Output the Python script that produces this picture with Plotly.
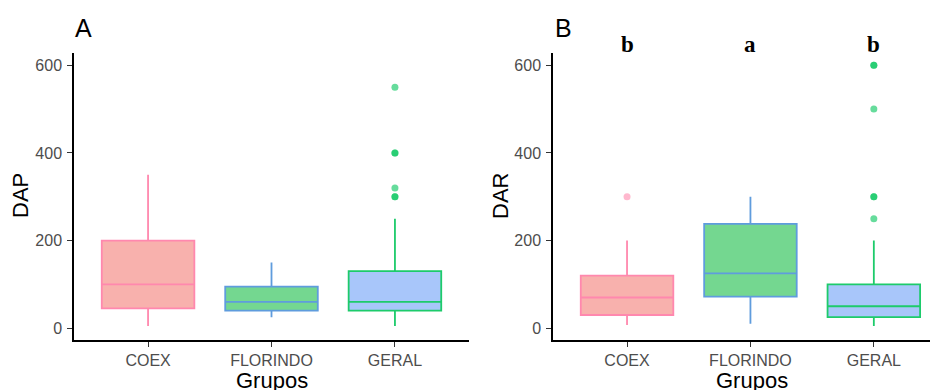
import plotly.graph_objects as go

# Page body has an 8px default margin, so figure pixel coords = screen coords - 8
OFF = 8
W, H = 938 - OFF, 390 - OFF

categories = ["COEX", "FLORINDO", "GERAL"]

# Panel A (DAP) box statistics
dap_q1 = [45, 40, 40]
dap_median = [100, 60, 60]
dap_q3 = [200, 95, 130]
dap_lower = [5, 25, 5]
dap_upper = [350, 150, 250]
dap_out_x = ["GERAL", "GERAL", "GERAL", "GERAL", "GERAL", "GERAL"]
dap_out_y = [550, 400, 400, 320, 300, 300]

# Panel B (DAR) box statistics
dar_q1 = [30, 72, 25]
dar_median = [70, 125, 50]
dar_q3 = [120, 238, 100]
dar_lower = [7, 10, 5]
dar_upper = [200, 300, 200]
dar_out_x = ["COEX", "GERAL", "GERAL", "GERAL", "GERAL", "GERAL", "GERAL"]
dar_out_y = [300, 600, 600, 500, 300, 300, 250]

letters = ["b", "a", "b"]

fill_colors = {"COEX": "#F8B1AD", "FLORINDO": "#74D790", "GERAL": "#A8C6FA"}
line_colors = {"COEX": "#FF88AE", "FLORINDO": "#5F9CDD", "GERAL": "#1DCB6B"}
point_colors = {"COEX": "rgba(255,136,174,0.6)", "GERAL": "rgba(0,196,90,0.6)"}

fig = go.Figure()

def add_panel(q1, med, q3, lo, up, ox, oy, xa, ya):
    for i, c in enumerate(categories):
        fig.add_trace(go.Box(
            x=[c], q1=[q1[i]], median=[med[i]], q3=[q3[i]],
            lowerfence=[lo[i]], upperfence=[up[i]],
            fillcolor=fill_colors[c], line=dict(color=line_colors[c], width=1.8),
            whiskerwidth=0, width=0.75, boxpoints=False,
            xaxis=xa, yaxis=ya, showlegend=False, hoverinfo="skip"))
    for c in ["COEX", "GERAL"]:
        ys = [y for x, y in zip(ox, oy) if x == c]
        if ys:
            fig.add_trace(go.Scatter(
                x=[c] * len(ys), y=ys, mode="markers",
                marker=dict(color=point_colors[c], size=7, line=dict(width=0)),
                xaxis=xa, yaxis=ya, showlegend=False, hoverinfo="skip"))

add_panel(dap_q1, dap_median, dap_q3, dap_lower, dap_upper, dap_out_x, dap_out_y, "x", "y")
add_panel(dar_q1, dar_median, dar_q3, dar_lower, dar_upper, dar_out_x, dar_out_y, "x2", "y2")

def px_x(x):
    return (x - OFF) / W

def px_y(y):
    return 1 - (y - OFF) / H

ydom = [px_y(340), px_y(53)]
font = "Arial, Liberation Sans, sans-serif"
axis_common = dict(showline=True, linecolor="black", linewidth=1.5, ticks="outside",
                   ticklen=5, tickcolor="#333333", tickwidth=1.2, showgrid=False,
                   zeroline=False, tickfont=dict(family=font, size=16, color="#4D4D4D"))

fig.update_layout(
    width=W, height=H, margin=dict(l=0, r=0, t=0, b=0),
    paper_bgcolor="white", plot_bgcolor="white",
    xaxis=dict(domain=[px_x(74), px_x(469)], type="category", categoryarray=categories,
               range=[-0.6, 2.6], anchor="y", **axis_common),
    yaxis=dict(domain=ydom, range=[-27, 628], tickvals=[0, 200, 400, 600], anchor="x",
               ticklabelstandoff=2, **axis_common),
    xaxis2=dict(domain=[px_x(553), 1.0], type="category", categoryarray=categories,
                range=[-0.6, 2.52], anchor="y2", **axis_common),
    yaxis2=dict(domain=ydom, range=[-27, 628], tickvals=[0, 200, 400, 600], anchor="x2",
                ticklabelstandoff=2, **axis_common),
)

ann = []
# panel tags
for tag, xp in [("A", 83), ("B", 563)]:
    ann.append(dict(text=tag, x=px_x(xp), y=px_y(28), xref="paper", yref="paper",
                    showarrow=False, font=dict(family=font, size=25, color="black"),
                    xanchor="center", yanchor="middle"))
# axis titles
for yname, xc_px, yx_px in [("DAP", 272, 20), ("DAR", 752, 500)]:
    ann.append(dict(text=yname, x=px_x(yx_px), y=px_y(196), xref="paper", yref="paper",
                    showarrow=False, textangle=-90,
                    font=dict(family=font, size=22, color="black"),
                    xanchor="center", yanchor="middle"))
    ann.append(dict(text="Grupos", x=px_x(xc_px), y=px_y(380), xref="paper", yref="paper",
                    showarrow=False, font=dict(family=font, size=22, color="black"),
                    xanchor="center", yanchor="middle"))
# significance letters
for c, l in zip(categories, letters):
    ann.append(dict(text="<b>" + l + "</b>", x=c, y=px_y(45), xref="x2", yref="paper",
                    showarrow=False, font=dict(family="Liberation Serif, Times New Roman, serif",
                                               size=23, color="black"),
                    xanchor="center", yanchor="middle"))
fig.update_layout(annotations=ann)

fig.write_html("out.html")
